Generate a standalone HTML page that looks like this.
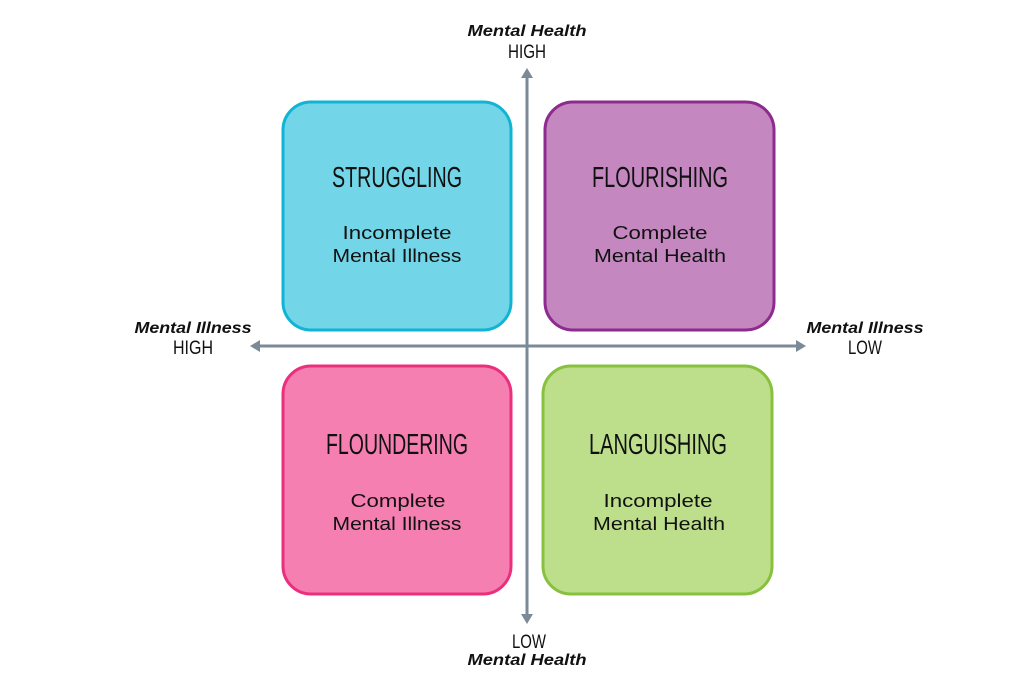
<!DOCTYPE html>
<html><head><meta charset="utf-8"><style>
html,body{margin:0;padding:0;background:#fff;}
svg{display:block;}
.t{font-family:"Liberation Sans",sans-serif;font-size:29px;fill:#111;}
.s{font-family:"Liberation Sans",sans-serif;font-size:18px;fill:#111;}
.i{font-family:"Liberation Sans",sans-serif;font-size:16px;font-weight:bold;font-style:italic;fill:#111;}
.h{font-family:"Liberation Sans",sans-serif;font-size:19px;fill:#111;}
</style></head><body>
<svg width="1024" height="688" viewBox="0 0 1024 688">
<g stroke="#7c8a98" stroke-width="3" fill="#7c8a98">
<line x1="527" y1="76" x2="527" y2="618"/>
<line x1="258" y1="346" x2="800" y2="346"/>
</g>
<g fill="#7c8a98">
<polygon points="527,68 521,78 533,78"/>
<polygon points="527,624 521,614 533,614"/>
<polygon points="250,346 260,340 260,352"/>
<polygon points="806,346 796,340 796,352"/>
</g>
<rect x="283" y="102" width="228" height="228" rx="28" fill="#72d6e8" stroke="#12b4d4" stroke-width="3"/>
<rect x="545" y="102" width="229" height="228" rx="28" fill="#c487c0" stroke="#8e2b8e" stroke-width="3"/>
<rect x="283" y="366" width="228" height="228" rx="28" fill="#f47fb0" stroke="#ec2f7d" stroke-width="3"/>
<rect x="543" y="366" width="229" height="228" rx="28" fill="#bddf8c" stroke="#88c13e" stroke-width="3"/>
<text class="t" x="397" y="187" text-anchor="middle" textLength="130" lengthAdjust="spacingAndGlyphs">STRUGGLING</text>
<text class="t" x="660" y="187" text-anchor="middle" textLength="136" lengthAdjust="spacingAndGlyphs">FLOURISHING</text>
<text class="t" x="397" y="454" text-anchor="middle" textLength="142" lengthAdjust="spacingAndGlyphs">FLOUNDERING</text>
<text class="t" x="658" y="454" text-anchor="middle" textLength="138" lengthAdjust="spacingAndGlyphs">LANGUISHING</text>
<text class="s" x="397" y="239" text-anchor="middle" textLength="109" lengthAdjust="spacingAndGlyphs">Incomplete</text>
<text class="s" x="397" y="262" text-anchor="middle" textLength="129" lengthAdjust="spacingAndGlyphs">Mental Illness</text>
<text class="s" x="660" y="239" text-anchor="middle" textLength="95" lengthAdjust="spacingAndGlyphs">Complete</text>
<text class="s" x="660" y="262" text-anchor="middle" textLength="132" lengthAdjust="spacingAndGlyphs">Mental Health</text>
<text class="s" x="398" y="507" text-anchor="middle" textLength="95" lengthAdjust="spacingAndGlyphs">Complete</text>
<text class="s" x="397" y="530" text-anchor="middle" textLength="129" lengthAdjust="spacingAndGlyphs">Mental Illness</text>
<text class="s" x="658" y="507" text-anchor="middle" textLength="109" lengthAdjust="spacingAndGlyphs">Incomplete</text>
<text class="s" x="659" y="530" text-anchor="middle" textLength="132" lengthAdjust="spacingAndGlyphs">Mental Health</text>
<text class="i" x="527" y="36" text-anchor="middle" textLength="119" lengthAdjust="spacingAndGlyphs">Mental Health</text>
<text class="h" x="527" y="58" text-anchor="middle" textLength="38" lengthAdjust="spacingAndGlyphs">HIGH</text>
<text class="h" x="529" y="648" text-anchor="middle" textLength="34" lengthAdjust="spacingAndGlyphs">LOW</text>
<text class="i" x="527" y="665" text-anchor="middle" textLength="119" lengthAdjust="spacingAndGlyphs">Mental Health</text>
<text class="i" x="193" y="333" text-anchor="middle" textLength="117" lengthAdjust="spacingAndGlyphs">Mental Illness</text>
<text class="h" x="193" y="354" text-anchor="middle" textLength="40" lengthAdjust="spacingAndGlyphs">HIGH</text>
<text class="i" x="865" y="333" text-anchor="middle" textLength="117" lengthAdjust="spacingAndGlyphs">Mental Illness</text>
<text class="h" x="865" y="354" text-anchor="middle" textLength="34" lengthAdjust="spacingAndGlyphs">LOW</text>
</svg>
</body></html>
